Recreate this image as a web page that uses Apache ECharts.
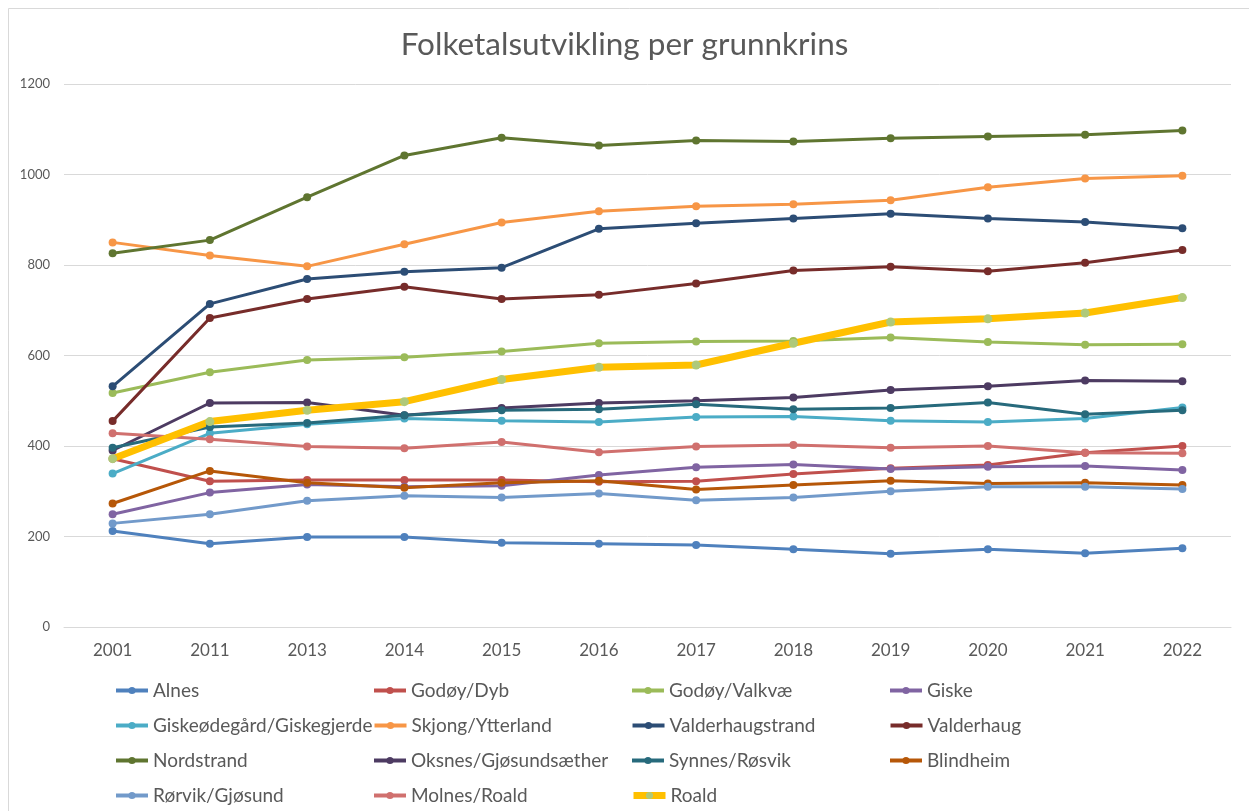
<!DOCTYPE html>
<html>
<head>
<meta charset="utf-8">
<title>Folketalsutvikling per grunnkrins</title>
<script src="https://cdn.jsdelivr.net/npm/echarts@6/dist/echarts.min.js"></script>
<style>
  html, body { margin: 0; padding: 0; background: #fff; }
  #chart { width: 1249px; height: 811px; }
</style>
</head>
<body>
<div id="chart"></div>
<script>
// år (kategoriar på x-aksen)
const years = ['2001', '2011', '2013', '2014', '2015', '2016', '2017', '2018', '2019', '2020', '2021', '2022'];

// folketal per grunnkrins, lese av biletet
const alnes = [212, 184, 199, 199, 186, 184, 181, 172, 162, 172, 163, 174];
const godoyDyb = [372, 322, 325, 325, 325, 321, 322, 338, 351, 358, 385, 400];
const godoyValkvae = [517, 563, 590, 596, 609, 627, 631, 632, 640, 630, 624, 625];
const giske = [249, 297, 315, 310, 312, 336, 353, 359, 349, 354, 356, 347];
const giskeodegard = [339, 428, 448, 461, 456, 453, 464, 465, 456, 453, 461, 485];
const skjong = [850, 821, 797, 846, 894, 919, 930, 934, 943, 972, 991, 997];
const valderhaugstrand = [532, 714, 769, 785, 794, 880, 892, 903, 913, 903, 895, 881];
const valderhaug = [455, 683, 725, 752, 725, 734, 759, 788, 796, 786, 805, 833];
const nordstrand = [826, 855, 950, 1042, 1081, 1064, 1075, 1073, 1080, 1084, 1088, 1097];
const oksnes = [390, 495, 496, 468, 484, 495, 500, 507, 524, 532, 545, 543];
const synnes = [396, 442, 451, 468, 479, 481, 492, 481, 484, 496, 470, 479];
const blindheim = [273, 345, 319, 308, 319, 323, 304, 314, 323, 317, 319, 314];
const rorvik = [229, 249, 279, 290, 286, 295, 280, 286, 300, 310, 310, 305];
const molnes = [428, 415, 399, 395, 409, 386, 399, 402, 396, 400, 385, 384];
const roald = [372, 454, 479, 498, 547, 574, 579, 627, 674, 681, 694, 728];

const yTicks = [0, 200, 400, 600, 800, 1000, 1200];

const textGrey = '#595959';
const fontName = 'Lato, "Open Sans", sans-serif';

function mkLine(name, data, color, markerColor, width) {
  return {
    name: name,
    type: 'line',
    data: data,
    symbol: 'circle',
    symbolSize: width > 4 ? 9 : 8,
    lineStyle: { color: color, width: width },
    itemStyle: { color: markerColor || color },
    emphasis: { disabled: true }
  };
}

const series = [
  mkLine('Alnes', alnes, '#4F81BD', null, 3),
  mkLine('Godøy/Dyb', godoyDyb, '#C0504D', null, 3),
  mkLine('Godøy/Valkvæ', godoyValkvae, '#9BBB59', null, 3),
  mkLine('Giske', giske, '#8064A2', null, 3),
  mkLine('Giskeødegård/Giskegjerde', giskeodegard, '#4BACC6', null, 3),
  mkLine('Skjong/Ytterland', skjong, '#F79646', null, 3),
  mkLine('Valderhaugstrand', valderhaugstrand, '#2C4D75', null, 3),
  mkLine('Valderhaug', valderhaug, '#772C2A', null, 3),
  mkLine('Nordstrand', nordstrand, '#5F7530', null, 3),
  mkLine('Oksnes/Gjøsundsæther', oksnes, '#4D3B62', null, 3),
  mkLine('Synnes/Røsvik', synnes, '#276A7C', null, 3),
  mkLine('Blindheim', blindheim, '#B65708', null, 3),
  mkLine('Rørvik/Gjøsund', rorvik, '#729ACA', null, 3),
  mkLine('Molnes/Roald', molnes, '#D0706E', null, 3),
  mkLine('Roald', roald, '#FFC000', '#AFC97A', 7)
];

const chart = echarts.init(document.getElementById('chart'), null, { renderer: 'canvas' });

chart.setOption({
  animation: false,
  backgroundColor: '#fff',
  title: {
    text: 'Folketalsutvikling per grunnkrins',
    left: 'center',
    top: 24,
    textStyle: { color: textGrey, fontFamily: fontName, fontSize: 31.5, fontWeight: 'normal' }
  },
  // kantlinje rundt heile diagrammet
  graphic: [{
    type: 'rect',
    shape: { x: 8.5, y: 8.5, width: 1300, height: 900 },
    style: { fill: 'none', stroke: '#D9D9D9', lineWidth: 1 },
    silent: true
  }],
  grid: { left: 64, right: 18, top: 84, bottom: 184 },
  legend: {
    left: 109,
    top: 668,
    width: 1050,
    itemWidth: 32,
    itemHeight: 9,
    itemGap: 0,
    textStyle: {
      color: textGrey,
      fontFamily: fontName,
      fontSize: 19,
      width: 219,
      lineHeight: 35,
      overflow: 'none'
    },
    data: series.map(s => ({
      name: s.name,
      lineStyle: { width: s.lineStyle.width > 4 ? 7 : 4 }
    }))
  },
  xAxis: {
    type: 'category',
    data: years,
    boundaryGap: true,
    axisLine: { lineStyle: { color: '#D9D9D9', width: 1 } },
    axisTick: { show: false },
    axisLabel: { color: textGrey, fontFamily: fontName, fontSize: 17, margin: 15 }
  },
  yAxis: {
    type: 'value',
    min: yTicks[0],
    max: yTicks[yTicks.length - 1],
    interval: 200,
    axisLine: { show: false },
    axisTick: { show: false },
    splitLine: { lineStyle: { color: '#D9D9D9', width: 1 } },
    axisLabel: {
      color: textGrey, fontFamily: fontName, fontSize: 13, margin: 14,
      formatter: v => String(v)
    }
  },
  series: series
});
</script>
</body>
</html>
